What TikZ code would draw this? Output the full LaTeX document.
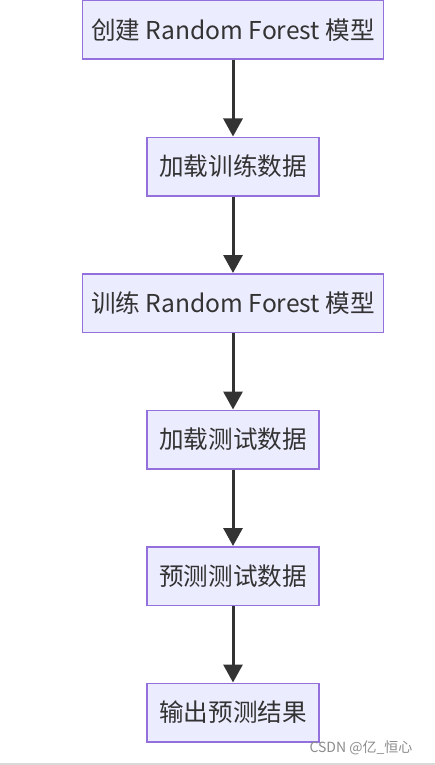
\documentclass[tikz,border=0pt]{standalone}
\usepackage{fontspec}
\setmainfont{Noto Sans CJK SC}
\usetikzlibrary{positioning,arrows.meta}
\definecolor{boxfill}{HTML}{ECECFF}
\definecolor{boxline}{HTML}{9370DB}
\definecolor{arrowcol}{HTML}{333333}

\begin{document}
\begin{tikzpicture}[x=1pt,y=1pt]
\tikzstyle{stepbox}=[draw=boxline, fill=boxfill, line width=1.5pt, text=arrowcol,
  minimum height=58.5pt, inner xsep=12pt, font=\fontsize{24.6}{28}\selectfont]
\tikzstyle{widebox}=[stepbox, inner xsep=8.5pt]
\tikzstyle{flow}=[draw=arrowcol, line width=3pt, -{Triangle[width=19pt,length=18pt]}]
\useasboundingbox (0,0) rectangle (435,-765);
\fill[black!15] (0,-763) rectangle (435,-765);
\node[widebox] (create) at (233,-30) {创建 Random Forest 模型};
\node[stepbox, below=76.5pt of create] (loadtrain) {加载训练数据};
\node[widebox, below=76.5pt of loadtrain] (train) {训练 Random Forest 模型};
\node[stepbox, below=76.5pt of train] (loadtest) {加载测试数据};
\node[stepbox, below=76.5pt of loadtest] (predict) {预测测试数据};
\node[stepbox, below=76.5pt of predict] (output) {输出预测结果};
\draw[flow] (create) -- (loadtrain);
\draw[flow] (loadtrain) -- (train);
\draw[flow] (train) -- (loadtest);
\draw[flow] (loadtest) -- (predict);
\draw[flow] (predict) -- (output);
\node[text=black!45, font=\fontsize{14}{16}\selectfont] (mark) at (361,-748) {CSDN @亿\_恒心};
\end{tikzpicture}
\end{document}
